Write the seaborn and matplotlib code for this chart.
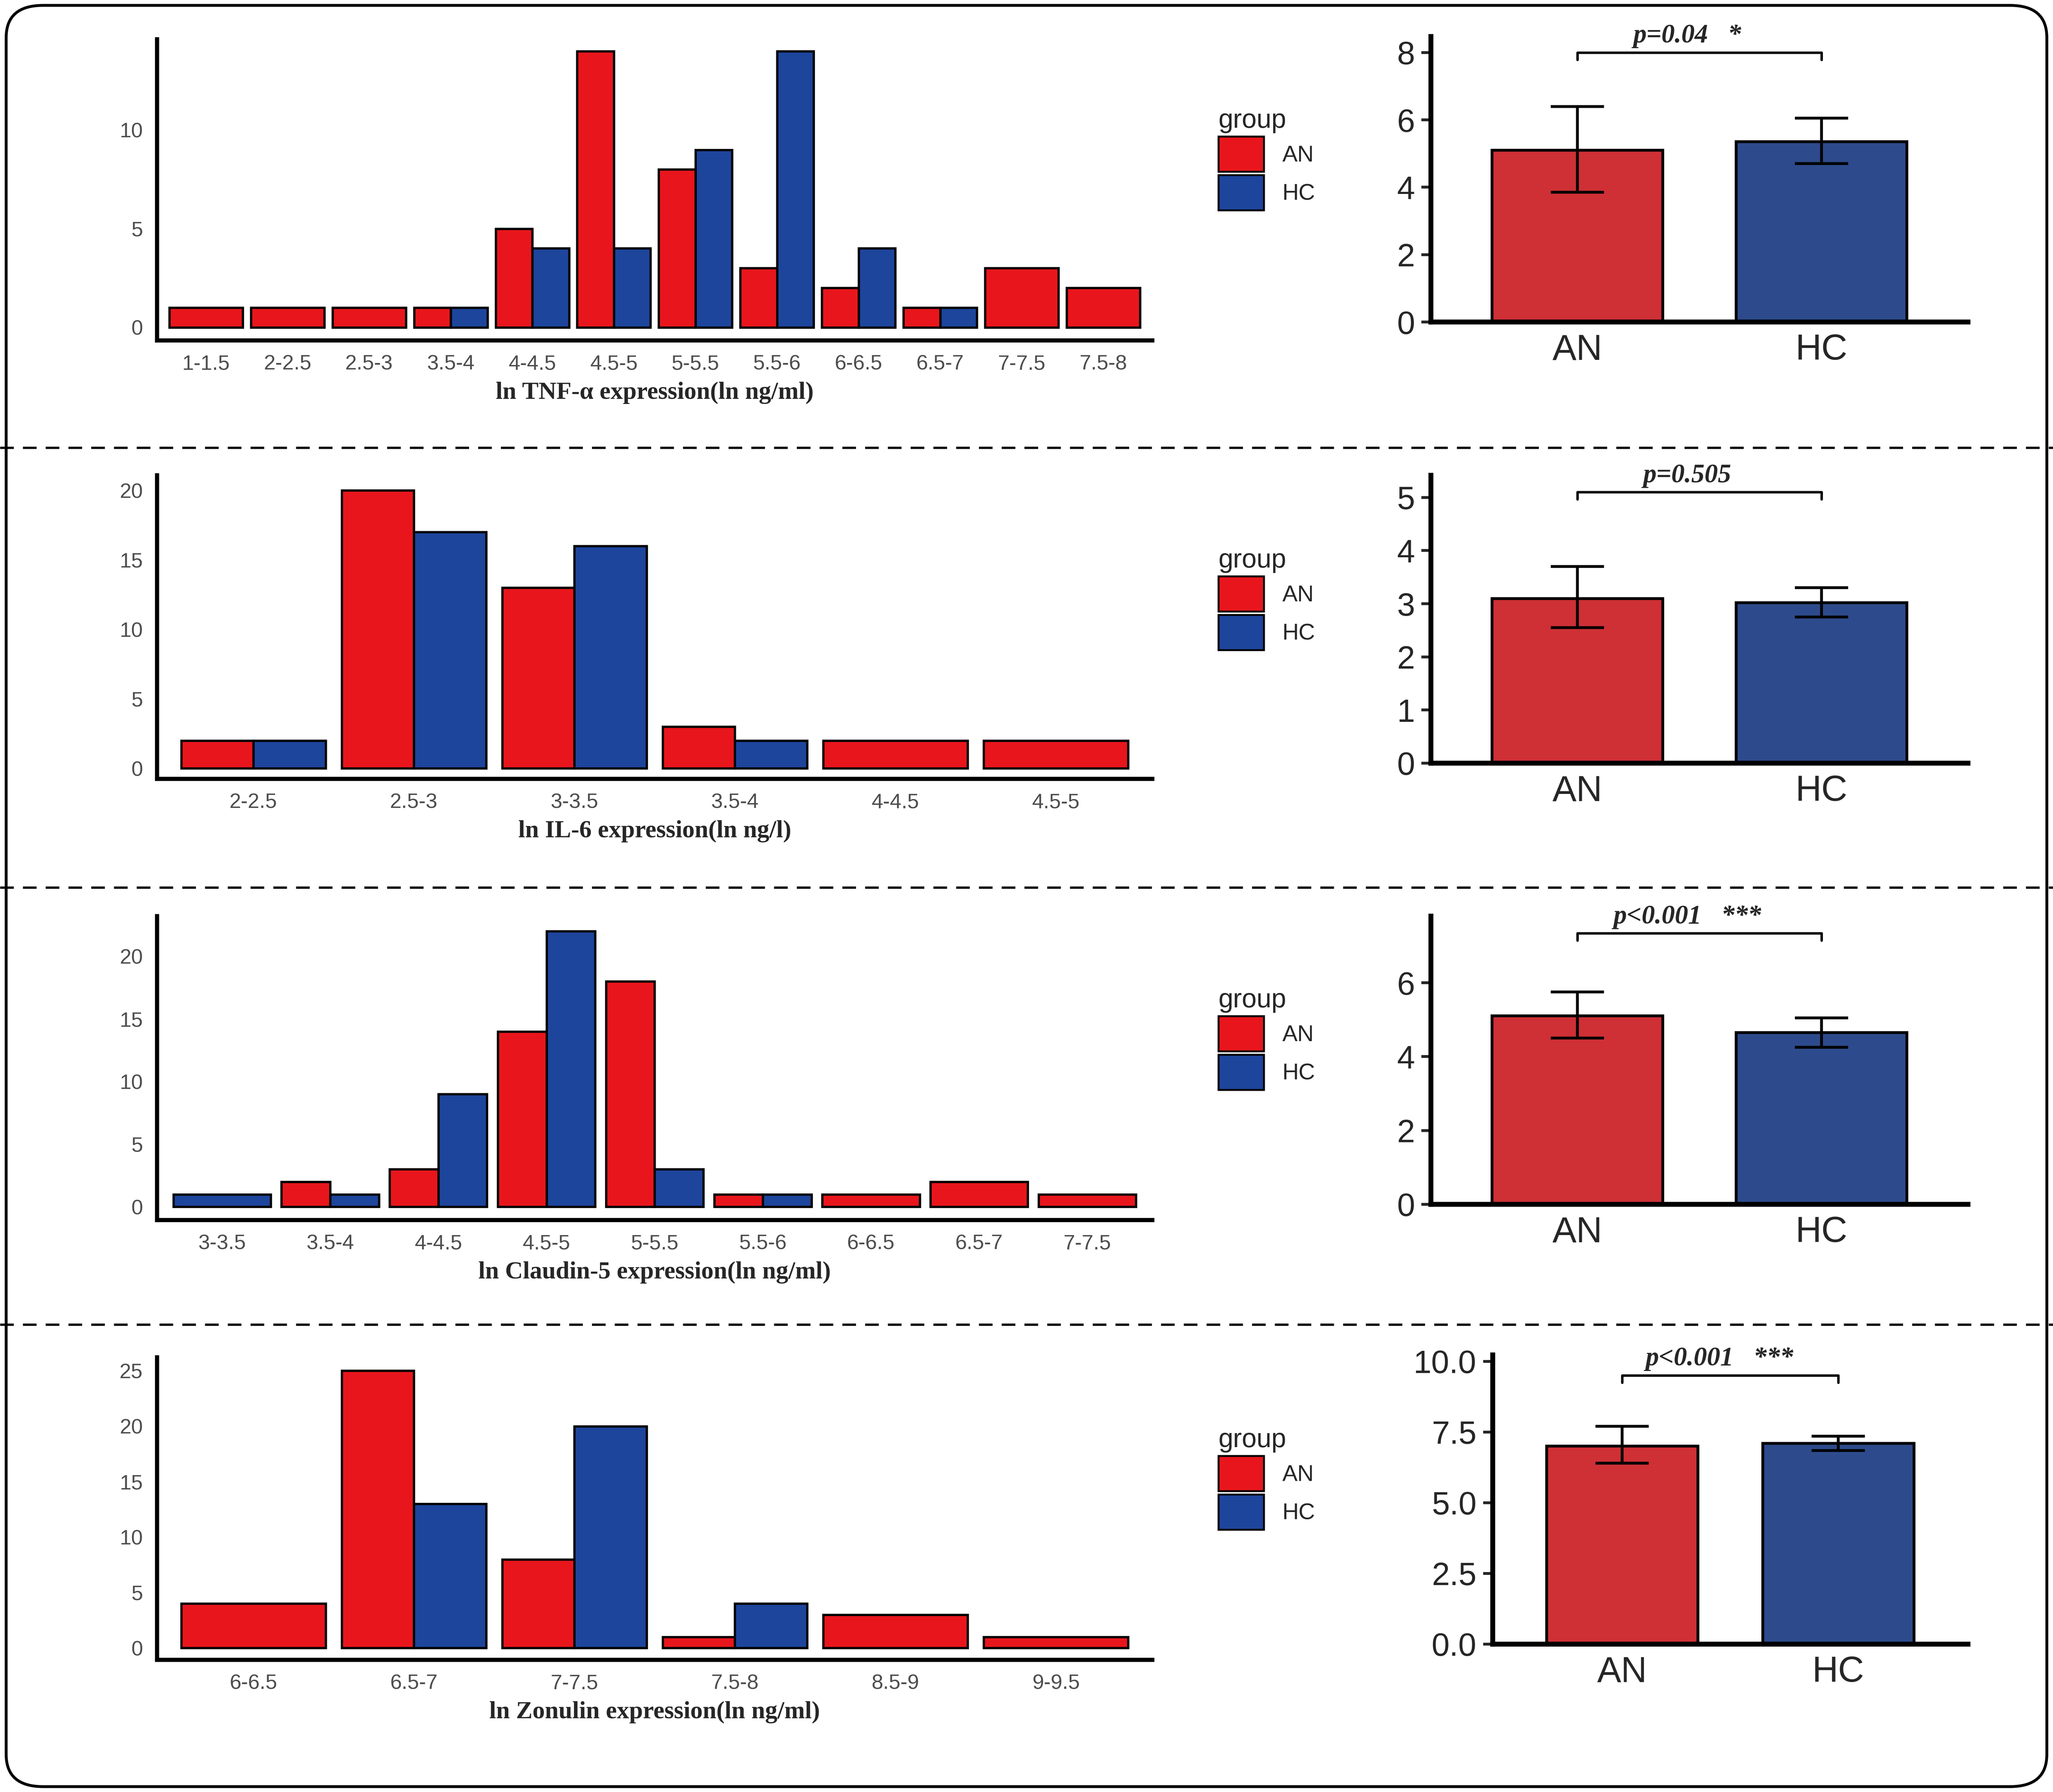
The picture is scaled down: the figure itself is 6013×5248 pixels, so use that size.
import numpy as np
import pandas as pd
import matplotlib
matplotlib.use('Agg')
import matplotlib.pyplot as plt
from matplotlib.patches import FancyBboxPatch, Patch
import seaborn as sns

RED = '#E8161C'
BLUE = '#1D459C'

# histogram data per marker
tnf_bins = ['1-1.5', '2-2.5', '2.5-3', '3.5-4', '4-4.5', '4.5-5', '5-5.5', '5.5-6', '6-6.5', '6.5-7', '7-7.5', '7.5-8']
tnf_an = [1, 1, 1, 1, 5, 14, 8, 3, 2, 1, 3, 2]
tnf_hc = [0, 0, 0, 1, 4, 4, 9, 14, 4, 1, 0, 0]

il6_bins = ['2-2.5', '2.5-3', '3-3.5', '3.5-4', '4-4.5', '4.5-5']
il6_an = [2, 20, 13, 3, 2, 2]
il6_hc = [2, 17, 16, 2, 0, 0]

cld_bins = ['3-3.5', '3.5-4', '4-4.5', '4.5-5', '5-5.5', '5.5-6', '6-6.5', '6.5-7', '7-7.5']
cld_an = [0, 2, 3, 14, 18, 1, 1, 2, 1]
cld_hc = [1, 1, 9, 22, 3, 1, 0, 0, 0]

zon_bins = ['6-6.5', '6.5-7', '7-7.5', '7.5-8', '8.5-9', '9-9.5']
zon_an = [4, 25, 8, 1, 3, 1]
zon_hc = [0, 13, 20, 4, 0, 0]

# group means with error bar limits
groups = ['AN', 'HC']
tnf_mean = [5.1, 5.35]; tnf_lo = [3.85, 4.7]; tnf_hi = [6.4, 6.05]
il6_mean = [3.1, 3.02]; il6_lo = [2.55, 2.75]; il6_hi = [3.7, 3.3]
cld_mean = [5.1, 4.65]; cld_lo = [4.5, 4.25]; cld_hi = [5.75, 5.05]
zon_mean = [7.0, 7.1]; zon_lo = [6.4, 6.85]; zon_hi = [7.7, 7.35]

rows = [
    dict(bins=tnf_bins, an=tnf_an, hc=tnf_hc, xlabel='ln TNF-α expression(ln ng/ml)', ylim=(-0.66, 14.6), yt=[0, 5, 10],
         mean=tnf_mean, lo=tnf_lo, hi=tnf_hi, rylim=(0, 8.47), ryt=[0, 2, 4, 6, 8], ryfmt='{:g}', br=8.0, ptxt='p=0.04   *'),
    dict(bins=il6_bins, an=il6_an, hc=il6_hc, xlabel='ln IL-6 expression(ln ng/l)', ylim=(-0.75, 21.1), yt=[0, 5, 10, 15, 20],
         mean=il6_mean, lo=il6_lo, hi=il6_hi, rylim=(0, 5.42), ryt=[0, 1, 2, 3, 4, 5], ryfmt='{:g}', br=5.1, ptxt='p=0.505'),
    dict(bins=cld_bins, an=cld_an, hc=cld_hc, xlabel='ln Claudin-5 expression(ln ng/ml)', ylim=(-1.05, 23.2), yt=[0, 5, 10, 15, 20],
         mean=cld_mean, lo=cld_lo, hi=cld_hi, rylim=(0, 7.8), ryt=[0, 2, 4, 6], ryfmt='{:g}', br=7.34, ptxt='p<0.001   ***'),
    dict(bins=zon_bins, an=zon_an, hc=zon_hc, xlabel='ln Zonulin expression(ln ng/ml)', ylim=(-1.06, 26.2), yt=[0, 5, 10, 15, 20, 25],
         mean=zon_mean, lo=zon_lo, hi=zon_hi, rylim=(0, 10.23), ryt=[0, 2.5, 5, 7.5, 10], ryfmt='{:.1f}', br=9.5, ptxt='p<0.001   ***'),
]

sns.set_style('white')
plt.rcParams['font.family'] = ['Liberation Sans', 'DejaVu Sans']

W, H = 1568.0, 1369.0
fig = plt.figure(figsize=(6013 / 400, 5248 / 400), dpi=400)

def fx(px):
    return px / W

def fy(py):
    return 1 - py / H

left_y = [(30, 260), (363, 595), (700, 932), (1037, 1268)]
right_y = [(28, 246), (363, 583), (700, 920), (1035, 1256)]
right_x = [(1093, 1503)] * 3 + [(1140, 1503)]
leg_y = [92, 428, 764, 1100]

for i, r in enumerate(rows):
    t, b = left_y[i]
    ax = fig.add_axes([fx(120), fy(b), fx(760), (b - t) / H])
    n = len(r['bins'])
    for k in range(n):
        a, h = r['an'][k], r['hc'][k]
        if a > 0 and h > 0:
            ax.bar(k - 0.225, a, width=0.45, color=RED, edgecolor='black', linewidth=1.2)
            ax.bar(k + 0.225, h, width=0.45, color=BLUE, edgecolor='black', linewidth=1.2)
        elif a > 0:
            ax.bar(k, a, width=0.9, color=RED, edgecolor='black', linewidth=1.2)
        elif h > 0:
            ax.bar(k, h, width=0.9, color=BLUE, edgecolor='black', linewidth=1.2)
    ax.set_xlim(-0.6, n - 0.4)
    ax.set_ylim(*r['ylim'])
    ax.set_xticks(range(n))
    ax.set_xticklabels(r['bins'])
    ax.set_yticks(r['yt'])
    ax.tick_params(labelsize=11, colors='#4D4D4D', length=4, width=1.2)
    ax.tick_params(axis='both', color='#333333')
    for s in ['top', 'right']:
        ax.spines[s].set_visible(False)
    for s in ['left', 'bottom']:
        ax.spines[s].set_linewidth(2.2)
        ax.spines[s].set_color('black')
    ax.set_xlabel(r['xlabel'], fontsize=13, fontweight='bold', family='Liberation Serif', labelpad=4)

    # legend
    handles = [Patch(facecolor=RED, edgecolor='black', label='AN'),
               Patch(facecolor=BLUE, edgecolor='black', label='HC')]
    lg = fig.legend(handles=handles, title='group', loc='upper left',
                    bbox_to_anchor=(fx(922), fy(leg_y[i] - 18)), frameon=False,
                    fontsize=12, title_fontsize=14, handlelength=2.0, handleheight=2.0,
                    labelspacing=0.15, handletextpad=0.8, borderpad=0)
    lg._legend_box.align = 'left'

    # mean bar chart
    t, b = right_y[i]
    x0, x1 = right_x[i]
    rax = fig.add_axes([fx(x0), fy(b), fx(x1 - x0), (b - t) / H])
    df = pd.DataFrame({'group': groups, 'value': r['mean']})
    sns.barplot(data=df, x='group', y='value', hue='group', palette=[RED, BLUE],
                width=0.7, edgecolor='black', linewidth=1.5, errorbar=None, legend=False, ax=rax)
    yerr = [np.array(r['mean']) - np.array(r['lo']), np.array(r['hi']) - np.array(r['mean'])]
    rax.errorbar([0, 1], r['mean'], yerr=yerr, fmt='none', ecolor='black', elinewidth=1.5, capsize=14, capthick=1.5)
    rax.set_xlim(-0.6, 1.6)
    rax.set_ylim(*r['rylim'])
    rax.set_yticks(r['ryt'])
    rax.set_yticklabels([r['ryfmt'].format(v) for v in r['ryt']])
    rax.set_xlabel('')
    rax.set_ylabel('')
    rax.tick_params(axis='x', labelsize=19, length=0, pad=6)
    rax.tick_params(axis='y', labelsize=17, length=5, width=1.5, left=True)
    for s in ['top', 'right']:
        rax.spines[s].set_visible(False)
    for s in ['left', 'bottom']:
        rax.spines[s].set_linewidth(2.6)
        rax.spines[s].set_color('black')
    br = r['br']
    d = (r['rylim'][1]) * 0.025
    rax.plot([0, 0, 1, 1], [br - d, br, br, br - d], color='black', lw=1.3, clip_on=False)
    rax.text(0.45, br + d * 0.6, r['ptxt'], ha='center', va='bottom', fontsize=14,
             fontweight='bold', fontstyle='italic', family='Liberation Serif', clip_on=False)

# dashed separators
for yy in [342, 678, 1012]:
    fig.add_artist(plt.Line2D([0, 1], [fy(yy), fy(yy)], color='black', lw=1.2,
                              linestyle=(0, (6, 4)), transform=fig.transFigure))

# rounded frame
fig.add_artist(FancyBboxPatch((0.003, 0.003), 0.994, 0.994, boxstyle='round,pad=0,rounding_size=0.018',
                              transform=fig.transFigure, fill=False, edgecolor='black', lw=1.5))

fig.savefig('out.png', dpi=400)
